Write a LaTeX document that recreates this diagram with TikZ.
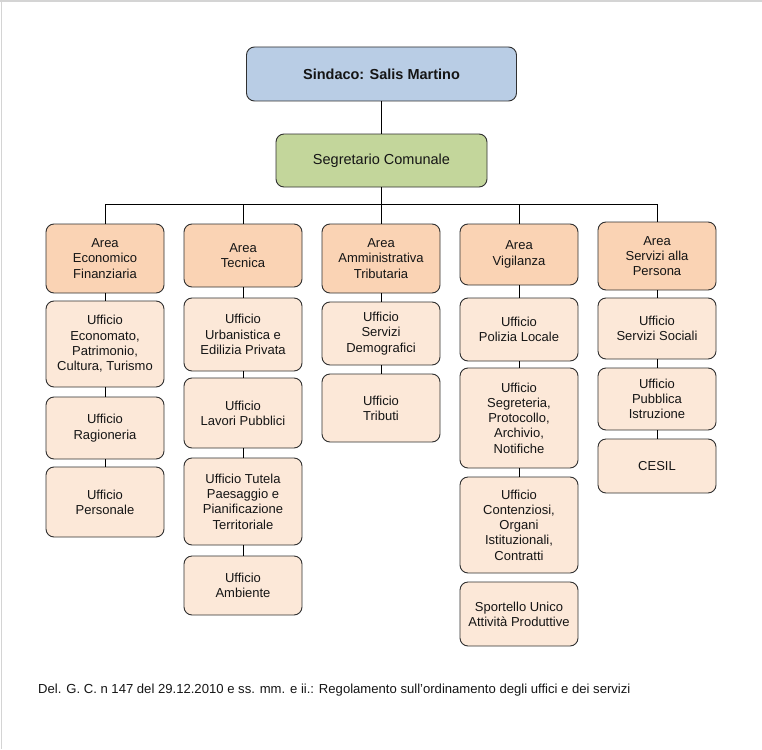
\documentclass[tikz,border=0pt]{standalone}
\usepackage{fontspec}
\setmainfont{Liberation Sans}
\definecolor{sindacoC}{HTML}{B9CDE5}
\definecolor{segrC}{HTML}{C3D69B}
\definecolor{areaC}{HTML}{FAD3B4}
\definecolor{uffC}{HTML}{FCE8D8}
\definecolor{edgeC}{HTML}{303030}
\definecolor{txtC}{HTML}{151515}
\definecolor{pageC}{HTML}{D4D4D4}
\begin{document}
\begin{tikzpicture}[x=1pt,y=-1pt,
  basebox/.style={draw=edgeC, line width=0.9pt, rounded corners=8pt, inner sep=0pt,
     align=center, text=txtC, minimum width=118pt},
  topbox/.style={basebox, font=\fontsize{14.5}{17}\selectfont},
  areabox/.style={basebox, fill=areaC, font=\fontsize{13}{15.3}\selectfont},
  uffbox/.style={basebox, fill=uffC, font=\fontsize{13}{15.3}\selectfont},
  conn/.style={draw=black, line width=0.8pt}]
\useasboundingbox (0,0) rectangle (762,749);
\fill[white] (0,0) rectangle (762,749);
\draw[pageC, line width=1.2pt] (0,1) -- (762,1);
\draw[pageC, line width=1.2pt] (1.5,0) -- (1.5,749);

% top
\node[topbox, fill=sindacoC, minimum width=270pt, minimum height=54pt, font=\fontsize{14.5}{17}\selectfont\bfseries] (s) at (381.5,74) {Sindaco: Salis Martino};
\node[topbox, fill=segrC, minimum width=211pt, minimum height=53pt] (g) at (381.5,160.5) {Segretario Comunale};

% column 1
\node[areabox, minimum height=69pt] (a1) at (105,258.5) {Area\\Economico\\Finanziaria};
\node[uffbox, minimum height=86pt] (u11) at (105,344) {Ufficio\\Economato,\\Patrimonio,\\Cultura, Turismo};
\node[uffbox, minimum height=62pt] (u12) at (105,428) {Ufficio\\Ragioneria};
\node[uffbox, minimum height=70pt] (u13) at (105,502) {Ufficio\\Personale};

% column 2
\node[areabox, minimum height=63pt] (a2) at (243,255.5) {Area\\Tecnica};
\node[uffbox, minimum height=73pt] (u21) at (243,334.5) {Ufficio\\Urbanistica e\\Edilizia Privata};
\node[uffbox, minimum height=70pt] (u22) at (243,413) {Ufficio\\Lavori Pubblici};
\node[uffbox, minimum height=87pt] (u23) at (243,501.5) {Ufficio Tutela\\Paesaggio e\\Pianificazione\\Territoriale};
\node[uffbox, minimum height=59pt] (u24) at (243,585.5) {Ufficio\\Ambiente};

% column 3
\node[areabox, minimum height=69pt] (a3) at (381,258.5) {Area\\Amministrativa\\Tributaria};
\node[uffbox, minimum height=63pt] (u31) at (381,333.5) {Ufficio\\Servizi\\Demografici};
\node[uffbox, minimum height=68pt] (u32) at (381,408) {Ufficio\\Tributi};

% column 4
\node[areabox, minimum height=61pt] (a4) at (519,254.5) {Area\\Vigilanza};
\node[uffbox, minimum height=63pt] (u41) at (519,329.5) {Ufficio\\Polizia Locale};
\node[uffbox, minimum height=100pt] (u42) at (519,418) {Ufficio\\Segreteria,\\Protocollo,\\Archivio,\\Notifiche};
\node[uffbox, minimum height=96pt] (u43) at (519,525) {Ufficio\\Contenziosi,\\Organi\\Istituzionali,\\Contratti};
\node[uffbox, minimum height=64pt] (u44) at (519,614) {Sportello Unico\\Attività Produttive};

% column 5
\node[areabox, minimum height=68pt] (a5) at (657,256) {Area\\Servizi alla\\Persona};
\node[uffbox, minimum height=61pt] (u51) at (657,328.5) {Ufficio\\Servizi Sociali};
\node[uffbox, minimum height=62pt] (u52) at (657,399) {Ufficio\\Pubblica\\Istruzione};
\node[uffbox, minimum height=54pt] (u53) at (657,466) {CESIL};

% connectors
\coordinate (bus) at (381.5,204);
\draw[conn] (s.south) -- (g.north);
\draw[conn] (g.south) -- (bus);
\foreach \a in {a1,a2,a3,a4,a5} \draw[conn] (bus) -| (\a.north);
\draw[conn] (a1.south) -- (u11.north);
\draw[conn] (u11.south) -- (u12.north);
\draw[conn] (u12.south) -- (u13.north);
\draw[conn] (a2.south) -- (u21.north);
\draw[conn] (u21.south) -- (u22.north);
\draw[conn] (u22.south) -- (u23.north);
\draw[conn] (u23.south) -- (u24.north);
\draw[conn] (a3.south) -- (u31.north);
\draw[conn] (u31.south) -- (u32.north);
\draw[conn] (a4.south) -- (u41.north);
\draw[conn] (u41.south) -- (u42.north);
\draw[conn] (u42.south) -- (u43.north);
\draw[conn] (a5.south) -- (u51.north);
\draw[conn] (u51.south) -- (u52.north);
\draw[conn] (u52.south) -- (u53.north);

% footer
\node[anchor=west, inner sep=0pt, text=txtC, font=\fontsize{13.1}{14.5}\selectfont] (foot) at (38,690) {Del. G. C. n 147 del 29.12.2010 e ss. mm. e ii.: Regolamento sull'ordinamento degli uffici e dei servizi};
\end{tikzpicture}
\end{document}
